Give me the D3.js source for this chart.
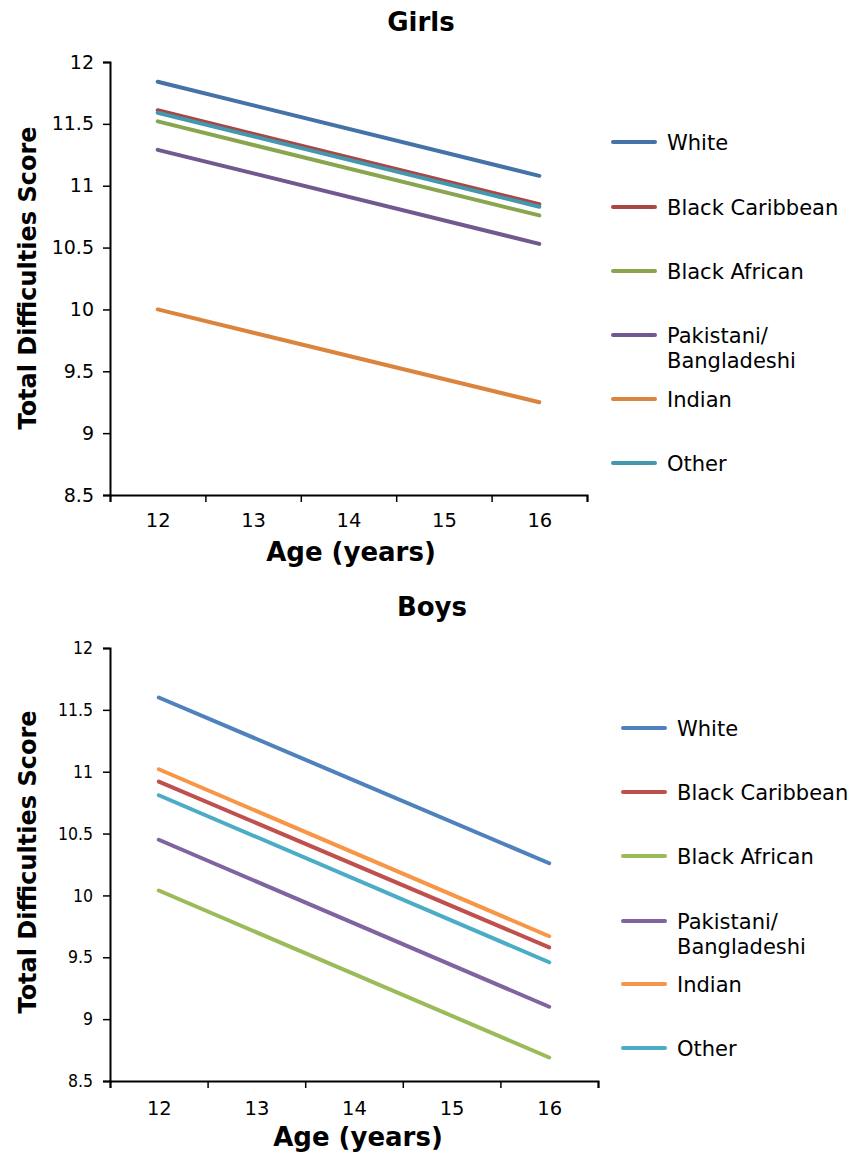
<!DOCTYPE html>
<html><head><meta charset="utf-8">
<script src="https://cdn.jsdelivr.net/npm/d3@7"></script>
<style>body{margin:0;background:#fff}svg{display:block}</style>
</head><body>
<svg id="c" width="862" height="1154"></svg>
<script>
const ages = [12, 16];
const groups = ["White", "Black Caribbean", "Black African", "Pakistani/Bangladeshi", "Indian", "Other"];
const legendLabels = [["White"], ["Black Caribbean"], ["Black African"], ["Pakistani/", "Bangladeshi"], ["Indian"], ["Other"]];
const girlsWhite = [11.84, 11.08];
const girlsBlackCaribbean = [11.61, 10.85];
const girlsBlackAfrican = [11.52, 10.76];
const girlsPakistani = [11.29, 10.53];
const girlsIndian = [10.00, 9.25];
const girlsOther = [11.59, 10.83];
const boysWhite = [11.60, 10.26];
const boysBlackCaribbean = [10.92, 9.58];
const boysBlackAfrican = [10.04, 8.69];
const boysPakistani = [10.45, 9.10];
const boysIndian = [11.02, 9.67];
const boysOther = [10.81, 9.46];
const xTicks = [12, 13, 14, 15, 16];
const xBounds = [11.5, 12.5, 13.5, 14.5, 15.5, 16.5];
const yTicks = [8.5, 9, 9.5, 10, 10.5, 11, 11.5, 12];
const girlsColors = ["#4572A7", "#AA4643", "#89A54E", "#71588F", "#DB843D", "#4198AF"];
const boysColors = ["#4F81BD", "#C0504D", "#9BBB59", "#8064A2", "#F79646", "#4BACC6"];

const svg = d3.select("#c");
const FONT = "DejaVu Sans, Verdana, sans-serif";

function panel(cfg) {
  const g = svg.append("g");
  const x = d3.scaleLinear().domain([11.5, 16.5]).range([cfg.x0, cfg.x1]);
  const y = d3.scaleLinear().domain([8.5, 12]).range([cfg.y0, cfg.y1]);
  g.append("text").attr("x", cfg.titleX).attr("y", cfg.titleY).attr("text-anchor", "middle")
    .style("font-family", FONT).style("font-weight", "bold").style("font-size", "26px").text(cfg.title);
  const ya = g.append("g").attr("transform", `translate(${cfg.x0},0)`)
    .call(d3.axisLeft(y).tickValues(yTicks).tickSize(7).tickPadding(cfg.yPad).tickFormat(d3.format("")));
  ya.selectAll("text").style("font-family", cfg.yFont).style("font-size", cfg.yFontSize).attr("fill", "#000");
  ya.select(".domain").attr("stroke", "#000").attr("stroke-width", 2);
  ya.selectAll(".tick line").attr("stroke", "#000").attr("stroke-width", 1.5);
  const xb = g.append("g").attr("transform", `translate(0,${cfg.y0})`)
    .call(d3.axisBottom(x).tickValues(xBounds).tickSize(7).tickFormat(""));
  xb.select(".domain").attr("stroke", "#000").attr("stroke-width", 2);
  xb.selectAll(".tick line").attr("stroke", "#000").attr("stroke-width", 1.5);
  const xl = g.append("g").attr("transform", `translate(0,${cfg.y0})`)
    .call(d3.axisBottom(x).tickValues(xTicks).tickSize(0).tickPadding(cfg.xPad).tickFormat(d3.format("d")));
  xl.select(".domain").remove();
  xl.selectAll("text").style("font-family", FONT).style("font-size", "19.5px").attr("fill", "#000");
  g.append("text").attr("x", cfg.xTitleX).attr("y", cfg.xTitleY).attr("text-anchor", "middle")
    .style("font-family", FONT).style("font-weight", "bold").style("font-size", "26px").text("Age (years)");
  g.append("text").attr("transform", `translate(${cfg.yTitleX},${cfg.yTitleY}) rotate(-90)`).attr("text-anchor", "middle")
    .style("font-family", FONT).style("font-weight", "bold").style("font-size", "24px").text("Total Difficulties Score");
  const line = d3.line().x((d, i) => x(ages[i])).y(d => y(d));
  cfg.series.forEach((s, i) => {
    g.append("path").datum(s).attr("d", line).attr("fill", "none")
      .attr("stroke", cfg.colors[i]).attr("stroke-width", 4).attr("stroke-linecap", "round");
  });
  const lg = g.append("g");
  legendLabels.forEach((lab, i) => {
    const ly = cfg.legY[i];
    lg.append("line").attr("x1", cfg.legX).attr("x2", cfg.legX + 42).attr("y1", ly).attr("y2", ly)
      .attr("stroke", cfg.colors[i]).attr("stroke-width", 4).attr("stroke-linecap", "round");
    const t = lg.append("text").attr("x", cfg.legX + 54).attr("y", ly)
      .style("font-family", FONT).style("font-size", "21px").attr("fill", "#000");
    lab.forEach((l, k) => t.append("tspan").attr("x", cfg.legX + 54).attr("dy", k === 0 ? "0.36em" : "1.2em").text(l));
  });
}

panel({
  title: "Girls", titleX: 421, titleY: 31,
  x0: 110, x1: 587, y0: 495, y1: 62,
  yFont: FONT, yFontSize: "19px", yPad: 9, xPad: 18,
  xTitleX: 351, xTitleY: 561, yTitleX: 36, yTitleY: 278,
  series: [girlsWhite, girlsBlackCaribbean, girlsBlackAfrican, girlsPakistani, girlsIndian, girlsOther],
  colors: girlsColors,
  legX: 613, legY: [142, 207, 271, 335, 399, 463]
});
panel({
  title: "Boys", titleX: 432, titleY: 616,
  x0: 110, x1: 598, y0: 1081, y1: 648,
  yFont: "DejaVu Sans Condensed, sans-serif", yFontSize: "17.5px", yPad: 10, xPad: 20,
  xTitleX: 358, xTitleY: 1146, yTitleX: 36, yTitleY: 862,
  series: [boysWhite, boysBlackCaribbean, boysBlackAfrican, boysPakistani, boysIndian, boysOther],
  colors: boysColors,
  legX: 623, legY: [728, 792, 856, 921, 984, 1048]
});
</script>
</body></html>
